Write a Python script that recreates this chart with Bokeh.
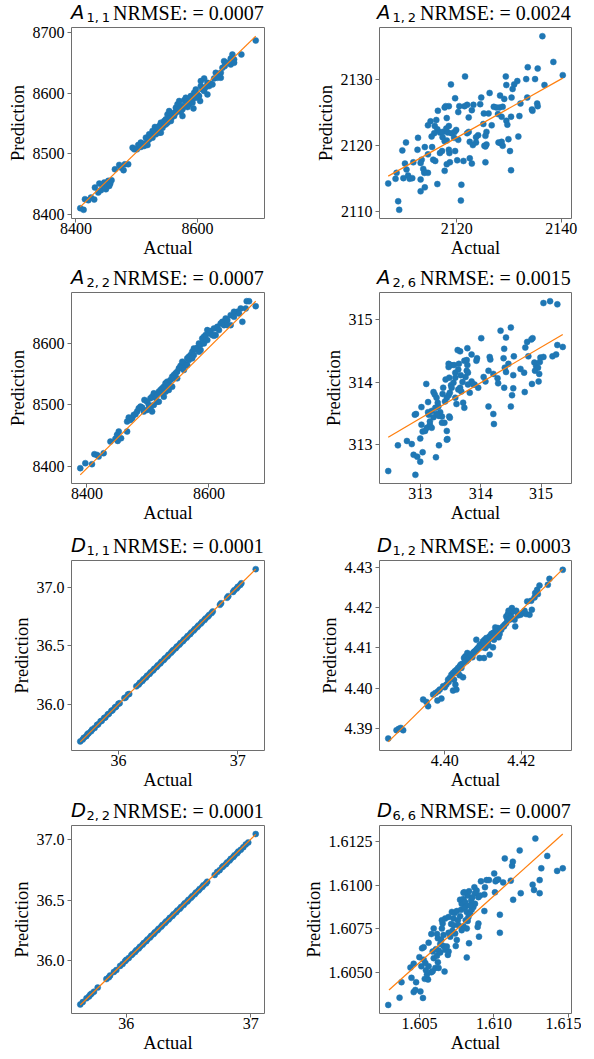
from bokeh.plotting import figure
from bokeh.layouts import column, row
from bokeh.models import FixedTicker, Div
from bokeh.embed import file_html
from bokeh.resources import INLINE

# ---------------- data ----------------
a11_actual = [8407.1, 8412.6, 8414.8, 8420.3, 8424.7, 8430.1, 8431.2, 8436.7, 8438.4, 8441.1,
              8443.8, 8446.6, 8451.0, 8453.2, 8456.4, 8458.6, 8454.8, 8449.3, 8464.1, 8471.2,
              8474.0, 8478.4, 8480.5, 8486.0, 8493.2, 8495.9, 8500.3, 8502.5, 8506.8, 8511.2,
              8515.1, 8517.8, 8520.5, 8523.3, 8527.7, 8529.9, 8531.5, 8534.2, 8537.0, 8539.7,
              8542.5, 8545.2, 8547.9, 8550.7, 8553.4, 8555.1, 8557.3, 8561.6, 8564.4, 8567.1,
              8569.9, 8572.6, 8575.3, 8578.1, 8580.8, 8583.6, 8586.3, 8589.0, 8591.8, 8594.5,
              8597.3, 8600.0, 8602.7, 8605.5, 8608.2, 8611.0, 8616.4, 8619.2, 8621.9, 8627.4,
              8630.1, 8635.6, 8638.4, 8641.1, 8643.8, 8644.9, 8649.3, 8654.8, 8657.5, 8660.3,
              8672.3, 8695.9, 8537.0, 8526.0, 8531.5, 8542.5, 8556.2, 8567.1, 8575.3, 8583.6,
              8591.8, 8506.8, 8512.3, 8517.8, 8550.7, 8545.2, 8561.6, 8572.6, 8593.4, 8604.4,
              8616.4, 8638.4, 8654.8, 8660.3, 8539.7, 8547.9, 8553.4, 8558.9, 8564.4, 8569.9,
              8578.1, 8586.3, 8597.3, 8611.0, 8624.7, 8632.9, 8526.0, 8520.5, 8534.2, 8605.5,
              8613.7]
a11_pred = [8409.9, 8407.2, 8424.8, 8423.1, 8427.5, 8424.2, 8444.0, 8435.8, 8450.6, 8439.6,
            8448.4, 8452.3, 8449.5, 8455.1, 8450.6, 8456.1, 8446.8, 8441.3, 8474.3, 8481.5,
            8477.1, 8472.7, 8482.6, 8482.6, 8510.1, 8507.3, 8507.3, 8514.5, 8518.4, 8516.7,
            8526.6, 8521.1, 8523.9, 8529.4, 8534.9, 8544.2, 8540.4, 8537.6, 8545.9, 8551.4,
            8548.6, 8554.1, 8556.9, 8565.1, 8570.6, 8562.4, 8559.6, 8567.9, 8576.1, 8581.7,
            8587.2, 8578.9, 8573.4, 8588.3, 8592.7, 8587.2, 8581.7, 8595.4, 8589.9, 8600.9,
            8606.4, 8598.2, 8595.4, 8611.9, 8606.4, 8624.6, 8617.4, 8611.9, 8615.8, 8624.6,
            8633.9, 8630.1, 8633.9, 8642.2, 8653.2, 8645.0, 8650.5, 8657.6, 8664.2, 8656.0,
            8664.2, 8687.3, 8534.9, 8526.6, 8532.1, 8543.1, 8554.1, 8570.6, 8562.4, 8577.2,
            8584.4, 8511.2, 8512.8, 8514.5, 8551.4, 8547.5, 8562.4, 8569.5, 8575.0, 8587.2,
            8598.2, 8625.7, 8647.7, 8650.5, 8534.9, 8548.6, 8558.5, 8563.5, 8567.9, 8573.4,
            8578.9, 8587.2, 8592.7, 8603.7, 8614.7, 8625.7, 8537.6, 8532.1, 8543.1, 8620.2,
            8610.3]
a11_line_x = [8407.1, 8695.9]
a11_line_y = [8412.1, 8694.5]

a12_actual = [2136.4, 2138.5, 2140.3, 2135.5, 2133.6, 2136.8, 2135.0, 2133.3, 2131.6, 2131.0,
              2130.7, 2129.4, 2129.5, 2121.6, 2118.9, 2119.7, 2126.3, 2124.7, 2128.3, 2129.1,
              2130.5, 2133.5, 2132.2, 2135.4, 2135.5, 2134.5, 2134.4, 2132.0, 2130.4, 2129.5,
              2129.7, 2128.6, 2127.9, 2127.1, 2127.6, 2128.2, 2128.8, 2126.1, 2125.2, 2125.1,
              2126.7, 2125.7, 2125.5, 2124.1, 2123.7, 2123.2, 2122.0, 2121.5, 2120.5, 2124.5,
              2122.3, 2122.9, 2120.3, 2118.5, 2117.9, 2117.7, 2116.4, 2118.1, 2115.0, 2116.1,
              2114.5, 2115.8, 2116.3, 2115.7, 2115.2, 2116.8, 2117.3, 2118.0, 2118.5, 2118.3,
              2119.0, 2119.6, 2119.9, 2117.3, 2117.7, 2118.1, 2119.5, 2120.3, 2122.3, 2122.0,
              2122.5, 2123.7, 2123.1, 2125.3, 2125.5, 2125.7, 2128.0, 2128.4, 2128.6, 2128.8,
              2129.9, 2131.8, 2130.2, 2130.4, 2125.5, 2122.9, 2122.5, 2121.3, 2120.1, 2119.7,
              2118.6, 2118.5, 2117.2, 2116.8, 2115.3, 2113.9, 2114.5, 2115.5, 2115.9, 2112.5,
              2112.6, 2110.3, 2109.6, 2111.7, 2110.1, 2110.4, 2110.7, 2111.0, 2111.5, 2113.3,
              2113.1, 2113.6, 2113.9, 2114.5, 2113.8, 2118.7, 2118.1, 2117.7, 2113.1, 2109.8,
              2108.5, 2108.3, 2106.9, 2113.9, 2113.1, 2116.3, 2120.9, 2120.8, 2108.8, 2109.0]
a12_pred = [2136.5, 2132.6, 2130.6, 2131.6, 2131.8, 2129.1, 2130.0, 2130.0, 2129.7, 2129.2,
            2128.5, 2130.4, 2129.1, 2130.4, 2129.2, 2127.1, 2127.9, 2127.2, 2127.5, 2127.0,
            2127.2, 2127.2, 2126.3, 2126.3, 2125.9, 2125.2, 2125.4, 2124.4, 2124.3, 2123.7,
            2123.1, 2124.3, 2124.7, 2125.8, 2125.7, 2125.7, 2125.8, 2124.8, 2124.8, 2123.2,
            2123.0, 2122.0, 2121.4, 2121.5, 2121.2, 2126.1, 2126.1, 2125.9, 2125.9, 2126.2,
            2124.2, 2125.3, 2125.0, 2125.9, 2125.9, 2125.7, 2125.2, 2124.1, 2123.6, 2123.8,
            2123.0, 2122.9, 2122.4, 2121.8, 2121.3, 2121.9, 2122.0, 2122.5, 2122.9, 2121.9,
            2121.8, 2122.0, 2122.3, 2121.2, 2120.6, 2120.7, 2121.1, 2120.8, 2122.0, 2121.8,
            2120.5, 2120.4, 2120.0, 2119.9, 2119.8, 2120.1, 2120.4, 2120.3, 2120.5, 2119.9,
            2120.9, 2121.3, 2119.1, 2116.2, 2117.4, 2117.2, 2118.0, 2117.6, 2117.7, 2119.1,
            2118.8, 2119.3, 2119.1, 2118.8, 2119.7, 2119.7, 2118.6, 2117.8, 2117.6, 2119.3,
            2121.1, 2120.4, 2119.2, 2117.4, 2117.2, 2116.3, 2115.4, 2114.9, 2115.0, 2117.8,
            2117.3, 2116.4, 2115.9, 2115.8, 2115.8, 2117.4, 2117.1, 2116.1, 2114.8, 2115.0,
            2115.8, 2114.9, 2114.2, 2113.6, 2113.0, 2114.1, 2114.0, 2111.6, 2111.5, 2110.2]
a12_line_x = [2106.9, 2140.3]
a12_line_y = [2115.3, 2130.15]

a22_actual = [8389.0, 8397.3, 8408.2, 8412.1, 8416.4, 8419.2, 8427.4, 8438.4, 8446.6, 8449.3,
              8452.1, 8450.4, 8455.9, 8465.8, 8468.5, 8471.2, 8474.0, 8476.7, 8479.5, 8482.2,
              8484.9, 8487.7, 8490.4, 8494.2, 8498.6, 8501.4, 8504.1, 8506.8, 8509.6, 8512.3,
              8515.1, 8517.8, 8520.5, 8523.3, 8526.0, 8528.8, 8531.5, 8534.2, 8537.0, 8539.7,
              8542.5, 8545.2, 8547.9, 8550.7, 8553.4, 8556.2, 8558.9, 8561.6, 8564.4, 8567.1,
              8569.9, 8572.6, 8575.3, 8578.1, 8580.8, 8583.6, 8586.3, 8589.0, 8591.8, 8594.5,
              8597.3, 8600.0, 8602.7, 8608.2, 8611.0, 8613.7, 8619.2, 8621.9, 8624.7, 8627.4,
              8630.1, 8635.6, 8641.1, 8646.6, 8652.1, 8654.8, 8661.9, 8665.8, 8676.7, 8660.3,
              8641.1, 8635.6, 8649.3, 8608.2, 8586.3, 8575.3, 8564.4, 8556.2, 8542.5, 8531.5,
              8515.1, 8504.1, 8493.2, 8498.6, 8506.8, 8509.6, 8517.8, 8526.0, 8534.2, 8539.7,
              8547.9, 8558.9, 8567.1, 8572.6, 8583.6, 8591.8, 8597.3, 8605.5, 8616.4, 8630.1,
              8537.0, 8528.8, 8523.3, 8465.8]
a22_pred = [8397.3, 8405.4, 8403.8, 8420.0, 8418.9, 8416.2, 8421.6, 8440.5, 8444.9, 8451.4,
            8456.8, 8441.6, 8445.9, 8473.0, 8479.5, 8475.7, 8478.4, 8483.8, 8484.9, 8489.2,
            8494.6, 8497.3, 8495.7, 8508.1, 8505.4, 8500.0, 8510.8, 8513.5, 8518.9, 8511.9,
            8516.2, 8521.6, 8524.3, 8527.0, 8529.7, 8535.1, 8537.8, 8532.4, 8540.5, 8545.9,
            8548.6, 8551.4, 8554.1, 8559.5, 8563.8, 8559.5, 8567.6, 8564.9, 8575.7, 8578.4,
            8581.1, 8586.5, 8591.9, 8590.8, 8593.0, 8600.0, 8598.4, 8608.1, 8610.8, 8613.5,
            8621.6, 8616.2, 8620.0, 8624.3, 8613.5, 8627.0, 8632.4, 8635.1, 8629.7, 8640.5,
            8637.8, 8645.9, 8643.2, 8651.4, 8656.8, 8635.1, 8668.6, 8668.6, 8660.5, 8656.8,
            8651.4, 8629.7, 8648.6, 8612.4, 8589.2, 8581.1, 8564.9, 8570.3, 8543.2, 8524.3,
            8505.4, 8494.6, 8489.2, 8491.9, 8489.2, 8500.0, 8505.4, 8513.5, 8524.3, 8529.7,
            8543.2, 8556.8, 8573.0, 8575.7, 8586.5, 8600.0, 8605.4, 8613.5, 8621.6, 8629.7,
            8531.4, 8521.6, 8518.9, 8456.8]
a22_line_x = [8389.0, 8676.7]
a22_line_y = [8386.5, 8668.6]

a26_actual = [312.47, 312.92, 312.63, 312.78, 312.86, 312.89, 312.95, 313.00, 313.04, 313.26,
              313.00, 313.31, 313.44, 313.45, 313.02, 313.04, 313.08, 313.11, 313.16, 313.19,
              313.16, 313.14, 313.13, 313.19, 313.22, 312.91, 312.93, 313.02, 313.13, 313.10,
              313.22, 313.24, 313.27, 313.29, 313.30, 313.33, 313.31, 313.36, 313.27, 313.25,
              313.38, 313.37, 313.41, 313.44, 313.47, 313.49, 313.51, 313.55, 313.58, 313.48,
              313.42, 313.47, 313.47, 313.51, 313.56, 313.64, 313.63, 313.67, 313.70, 313.75,
              313.77, 313.79, 313.78, 313.73, 313.77, 313.66, 313.62, 313.78, 313.85, 313.94,
              313.93, 314.01, 314.15, 314.16, 314.13, 314.05, 314.08, 314.21, 314.28, 314.29,
              314.33, 314.39, 314.38, 314.40, 314.42, 314.39, 314.46, 314.50, 314.42, 314.55,
              314.54, 314.54, 314.52, 314.50, 314.21, 314.22, 314.13, 314.66, 314.72, 314.74,
              314.73, 314.77, 314.84, 314.86, 314.79, 314.89, 314.92, 314.95, 314.98, 314.99,
              314.90, 314.97, 314.85, 314.96, 315.04, 315.19, 315.25, 315.27, 315.36, 315.04,
              315.15, 315.27, 313.60, 313.58, 313.71, 313.48, 313.49, 313.44, 313.40, 313.36,
              313.52, 313.63, 313.68, 313.82, 313.90, 313.85, 313.79, 313.96, 313.66, 313.58,
              313.88, 313.73]
a26_pred = [312.58, 312.52, 312.99, 313.06, 313.01, 312.84, 312.81, 312.73, 312.88, 312.80,
            313.10, 312.99, 313.08, 313.09, 313.32, 313.21, 313.22, 313.27, 313.32, 313.27,
            313.37, 313.48, 313.52, 313.54, 313.44, 313.48, 313.49, 313.60, 313.68, 313.97,
            313.84, 313.80, 313.75, 313.67, 313.61, 313.52, 313.46, 313.45, 313.49, 313.59,
            313.91, 313.81, 313.69, 313.75, 313.79, 313.83, 313.95, 313.99, 314.07, 314.07,
            314.04, 314.24, 314.29, 314.27, 314.27, 314.29, 314.20, 314.11, 314.00, 314.08,
            314.18, 314.15, 314.27, 314.34, 314.35, 314.49, 314.51, 314.54, 314.44, 314.38,
            314.34, 314.70, 314.40, 314.36, 314.18, 314.08, 314.01, 314.13, 314.06, 313.98,
            314.82, 314.53, 314.38, 314.23, 314.16, 313.91, 314.29, 314.87, 314.71, 314.41,
            314.11, 313.90, 313.79, 313.61, 313.49, 313.33, 313.61, 314.21, 314.15, 314.55,
            313.84, 314.64, 314.68, 314.70, 314.41, 314.31, 314.25, 314.23, 314.32, 314.39,
            314.18, 314.13, 313.97, 314.01, 314.40, 314.41, 314.44, 314.59, 314.56, 315.26,
            315.29, 315.24, 313.65, 313.75, 313.67, 313.45, 313.43, 313.22, 313.35, 313.35,
            313.91, 313.88, 313.85, 313.83, 313.96, 314.01, 313.96, 313.91, 313.91, 314.15,
            313.96, 313.59]
a26_line_x = [312.47, 315.36]
a26_line_y = [313.12, 314.76]

d11_actual = [35.68, 35.70, 35.71, 35.73, 35.74, 35.75, 35.77, 35.78, 35.80, 35.82,
              35.83, 35.85, 35.86, 35.88, 35.89, 35.91, 35.92, 35.94, 35.95, 35.97,
              35.98, 36.00, 36.01, 36.05, 36.06, 36.08, 36.09, 36.15, 36.17, 36.18,
              36.20, 36.21, 36.23, 36.24, 36.26, 36.27, 36.29, 36.30, 36.32, 36.33,
              36.35, 36.36, 36.38, 36.39, 36.41, 36.42, 36.44, 36.45, 36.46, 36.48,
              36.49, 36.51, 36.52, 36.54, 36.55, 36.57, 36.58, 36.60, 36.61, 36.63,
              36.64, 36.66, 36.67, 36.69, 36.70, 36.72, 36.73, 36.75, 36.76, 36.78,
              36.79, 36.85, 36.86, 36.91, 36.92, 36.96, 36.97, 36.99, 37.00, 37.02,
              37.03, 37.15]
d11_pred = [35.682, 35.698, 35.713, 35.727, 35.743, 35.752, 35.768, 35.783, 35.797, 35.822,
            35.828, 35.853, 35.858, 35.882, 35.887, 35.912, 35.918, 35.942, 35.948, 35.972,
            35.978, 36.003, 36.008, 36.052, 36.057, 36.083, 36.087, 36.152, 36.168, 36.183,
            36.198, 36.213, 36.227, 36.243, 36.258, 36.272, 36.288, 36.302, 36.318, 36.332,
            36.348, 36.362, 36.378, 36.392, 36.408, 36.422, 36.438, 36.452, 36.462, 36.478,
            36.492, 36.508, 36.522, 36.538, 36.552, 36.568, 36.582, 36.598, 36.612, 36.628,
            36.642, 36.658, 36.672, 36.688, 36.702, 36.718, 36.732, 36.748, 36.762, 36.778,
            36.792, 36.848, 36.862, 36.908, 36.922, 36.958, 36.972, 36.988, 37.002, 37.018,
            37.032, 37.153]
d11_line_x = [35.68, 37.15]
d11_line_y = [35.678, 37.152]

d12_actual = [4.38522, 4.38739, 4.38852, 4.38913, 4.38800, 4.39435, 4.39522, 4.39565, 4.39696, 4.39757,
              4.39826, 4.39809, 4.39913, 4.39870, 4.39957, 4.40043, 4.40104, 4.40130, 4.40174, 4.40217,
              4.40261, 4.40304, 4.40348, 4.40217, 4.40304, 4.40278, 4.40243, 4.40391, 4.40478, 4.40435,
              4.40504, 4.40539, 4.40565, 4.40609, 4.40652, 4.40696, 4.40739, 4.40783, 4.40826, 4.40870,
              4.40826, 4.40913, 4.40957, 4.41000, 4.41043, 4.41087, 4.41130, 4.41174, 4.41217, 4.41261,
              4.41304, 4.41348, 4.41391, 4.41322, 4.41374, 4.41409, 4.41174, 4.41026, 4.40913, 4.41261,
              4.41148, 4.41478, 4.41522, 4.41565, 4.41609, 4.41635, 4.41670, 4.41722, 4.41783, 4.41757,
              4.41826, 4.41843, 4.41913, 4.41983, 4.42043, 4.42130, 4.42217, 4.42087, 4.42157, 4.42278,
              4.42261, 4.42348, 4.42365, 4.42417, 4.42478, 4.42435, 4.42696, 4.42739, 4.43087, 4.41609,
              4.41652, 4.41670, 4.41870, 4.40000, 4.40087, 4.40417, 4.40591, 4.40722, 4.40974, 4.41061,
              4.41287, 4.41435, 4.40348, 4.40391, 4.40452, 4.40522, 4.40626, 4.40678, 4.40765, 4.40852,
              4.40939, 4.41026, 4.41113, 4.41200, 4.41287, 4.41374, 4.41461, 4.41548, 4.41696, 4.41739]
d12_pred = [4.38753, 4.38959, 4.39016, 4.38959, 4.38992, 4.39718, 4.39660, 4.39553, 4.39841, 4.39882,
            4.39924, 4.39693, 4.39742, 4.39965, 4.40047, 4.40089, 4.40155, 4.40254, 4.40336, 4.40377,
            4.40419, 4.40452, 4.40377, 4.39940, 4.39965, 4.40089, 4.40212, 4.40320, 4.40270, 4.40501,
            4.40748, 4.40790, 4.40666, 4.40707, 4.40781, 4.40831, 4.40872, 4.40913, 4.40955, 4.40996,
            4.41202, 4.41062, 4.41095, 4.41161, 4.41202, 4.41243, 4.41161, 4.41285, 4.41342, 4.41367,
            4.41392, 4.41449, 4.41491, 4.41507, 4.41326, 4.41260, 4.40831, 4.40748, 4.40748, 4.41012,
            4.41062, 4.41449, 4.41532, 4.41573, 4.41614, 4.41722, 4.41779, 4.41837, 4.41903, 4.41986,
            4.41697, 4.41532, 4.41804, 4.41821, 4.41862, 4.41837, 4.41821, 4.41920, 4.42151, 4.41944,
            4.42167, 4.42249, 4.42357, 4.42439, 4.42546, 4.42332, 4.42563, 4.42711, 4.42934, 4.41779,
            4.41837, 4.41920, 4.41920, 4.40023, 4.40212, 4.40584, 4.40872, 4.40765, 4.41012, 4.40996,
            4.41202, 4.41342, 4.40501, 4.40542, 4.40600, 4.40649, 4.40765, 4.40814, 4.40897, 4.40979,
            4.41062, 4.41120, 4.41202, 4.41260, 4.41326, 4.41408, 4.41474, 4.41532, 4.41697, 4.41755]
d12_line_x = [4.38522, 4.43087]
d12_line_y = [4.38670, 4.42951]

d22_actual = [35.63, 35.65, 35.68, 35.70, 35.71, 35.72, 35.74, 35.77, 35.84, 35.86,
              35.87, 35.90, 35.92, 35.95, 35.97, 35.99, 36.00, 36.02, 36.04, 36.05,
              36.07, 36.08, 36.10, 36.11, 36.13, 36.14, 36.16, 36.17, 36.19, 36.20,
              36.22, 36.23, 36.25, 36.26, 36.28, 36.29, 36.31, 36.32, 36.34, 36.35,
              36.37, 36.38, 36.40, 36.41, 36.43, 36.44, 36.46, 36.47, 36.49, 36.50,
              36.52, 36.53, 36.55, 36.56, 36.58, 36.59, 36.61, 36.62, 36.64, 36.65,
              36.71, 36.73, 36.75, 36.77, 36.78, 36.80, 36.81, 36.83, 36.84, 36.86,
              36.87, 36.89, 36.90, 36.92, 36.94, 36.96, 36.98, 37.04]
d22_pred = [35.632, 35.652, 35.683, 35.698, 35.713, 35.722, 35.738, 35.772, 35.843, 35.858,
            35.873, 35.902, 35.918, 35.952, 35.968, 35.992, 36.003, 36.018, 36.042, 36.052,
            36.068, 36.082, 36.098, 36.112, 36.128, 36.142, 36.158, 36.172, 36.188, 36.202,
            36.218, 36.232, 36.248, 36.262, 36.278, 36.292, 36.308, 36.322, 36.338, 36.352,
            36.368, 36.382, 36.398, 36.412, 36.428, 36.442, 36.458, 36.472, 36.488, 36.502,
            36.518, 36.532, 36.548, 36.562, 36.578, 36.592, 36.608, 36.622, 36.638, 36.652,
            36.708, 36.732, 36.748, 36.772, 36.782, 36.798, 36.812, 36.828, 36.842, 36.858,
            36.872, 36.888, 36.902, 36.918, 36.938, 36.962, 36.978, 37.048]
d22_line_x = [35.63, 37.04]
d22_line_y = [35.628, 37.045]

d66_actual = [1.60291, 1.60367, 1.60380, 1.60462, 1.60473, 1.60507, 1.60478, 1.60524, 1.60447, 1.60440,
              1.60462, 1.60513, 1.60540, 1.60500, 1.60529, 1.60544, 1.60562, 1.60536, 1.60558, 1.60551,
              1.60580, 1.60589, 1.60607, 1.60629, 1.60624, 1.60596, 1.60618, 1.60640, 1.60669, 1.60518,
              1.60529, 1.60562, 1.60580, 1.60596, 1.60618, 1.60624, 1.60647, 1.60640, 1.60662, 1.60673,
              1.60691, 1.60696, 1.60684, 1.60662, 1.60656, 1.60651, 1.60673, 1.60696, 1.60713, 1.60722,
              1.60740, 1.60751, 1.60744, 1.60707, 1.60718, 1.60736, 1.60751, 1.60729, 1.60758, 1.60773,
              1.60780, 1.60784, 1.60773, 1.60796, 1.60807, 1.60811, 1.60802, 1.60818, 1.60829, 1.60811,
              1.60796, 1.60818, 1.60824, 1.60840, 1.60851, 1.60862, 1.60873, 1.60847, 1.60840, 1.60824,
              1.60833, 1.60869, 1.60884, 1.60873, 1.60856, 1.60896, 1.60907, 1.60936, 1.60936, 1.60896,
              1.60891, 1.60900, 1.60833, 1.60818, 1.60802, 1.60796, 1.60913, 1.60940, 1.60951, 1.60967,
              1.61002, 1.61011, 1.61018, 1.61029, 1.61007, 1.61040, 1.61040, 1.61062, 1.61073, 1.61113,
              1.61122, 1.61127, 1.61129, 1.61173, 1.61180, 1.61260, 1.61269, 1.61278, 1.61307, 1.61307,
              1.61318, 1.61358, 1.61424, 1.61462, 1.60762, 1.60784, 1.60696, 1.60729, 1.60651, 1.60629,
              1.60589, 1.60611]
d66_pred = [1.60312, 1.60354, 1.60443, 1.60386, 1.60398, 1.60390, 1.60443, 1.60352, 1.60468, 1.60527,
            1.60549, 1.60534, 1.60553, 1.60587, 1.60572, 1.60511, 1.60534, 1.60462, 1.60458, 1.60487,
            1.60500, 1.60506, 1.60525, 1.60525, 1.60557, 1.60581, 1.60595, 1.60614, 1.60504, 1.60638,
            1.60644, 1.60670, 1.60720, 1.60752, 1.60720, 1.60695, 1.60686, 1.60663, 1.60651, 1.60629,
            1.60600, 1.60619, 1.60648, 1.60714, 1.60780, 1.60799, 1.60809, 1.60818, 1.60777, 1.60739,
            1.60723, 1.60686, 1.60651, 1.60705, 1.60847, 1.60841, 1.60852, 1.60809, 1.60799, 1.60822,
            1.60860, 1.60894, 1.60917, 1.60922, 1.60903, 1.60879, 1.60871, 1.60847, 1.60818, 1.60799,
            1.60765, 1.60752, 1.60795, 1.60837, 1.60860, 1.60875, 1.60894, 1.60913, 1.60884, 1.60941,
            1.60966, 1.60989, 1.60970, 1.60955, 1.60932, 1.60932, 1.60941, 1.60947, 1.60852, 1.60780,
            1.60761, 1.60705, 1.60667, 1.60585, 1.60960, 1.60958, 1.61023, 1.60989, 1.61030, 1.61030,
            1.61068, 1.61023, 1.61030, 1.61034, 1.60960, 1.60831, 1.60727, 1.61017, 1.61155, 1.61027,
            1.61112, 1.61136, 1.60917, 1.61201, 1.60955, 1.61004, 1.60973, 1.61269, 1.60955, 1.61030,
            1.61098, 1.61169, 1.61083, 1.61098, 1.60771, 1.60742, 1.60727, 1.60771, 1.60752, 1.60625,
            1.60619, 1.60633]
d66_line_x = [1.60296, 1.61462]
d66_line_y = [1.60398, 1.61295]

# titles: (symbol, subscript, score text)
titles = [("A", "1, 1", "NRMSE: = 0.0007"), ("A", "1, 2", "NRMSE: = 0.0024"),
          ("A", "2, 2", "NRMSE: = 0.0007"), ("A", "2, 6", "NRMSE: = 0.0015"),
          ("D", "1, 1", "NRMSE: = 0.0001"), ("D", "1, 2", "NRMSE: = 0.0003"),
          ("D", "2, 2", "NRMSE: = 0.0001"), ("D", "6, 6", "NRMSE: = 0.0007")]

# ticks and tick labels
a11_xticks, a11_xlabels = [8400, 8600], ["8400", "8600"]
a11_yticks, a11_ylabels = [8400, 8500, 8600, 8700], ["8400", "8500", "8600", "8700"]
a12_xticks, a12_xlabels = [2120, 2140], ["2120", "2140"]
a12_yticks, a12_ylabels = [2110, 2120, 2130], ["2110", "2120", "2130"]
a22_xticks, a22_xlabels = [8400, 8600], ["8400", "8600"]
a22_yticks, a22_ylabels = [8400, 8500, 8600], ["8400", "8500", "8600"]
a26_xticks, a26_xlabels = [313, 314, 315], ["313", "314", "315"]
a26_yticks, a26_ylabels = [313, 314, 315], ["313", "314", "315"]
d11_xticks, d11_xlabels = [36, 37], ["36", "37"]
d11_yticks, d11_ylabels = [36.0, 36.5, 37.0], ["36.0", "36.5", "37.0"]
d12_xticks, d12_xlabels = [4.40, 4.42], ["4.40", "4.42"]
d12_yticks, d12_ylabels = [4.39, 4.40, 4.41, 4.42, 4.43], ["4.39", "4.40", "4.41", "4.42", "4.43"]
d22_xticks, d22_xlabels = [36, 37], ["36", "37"]
d22_yticks, d22_ylabels = [36.0, 36.5, 37.0], ["36.0", "36.5", "37.0"]
d66_xticks, d66_xlabels = [1.605, 1.610, 1.615], ["1.605", "1.610", "1.615"]
d66_yticks, d66_ylabels = [1.6050, 1.6075, 1.6100, 1.6125], ["1.6050", "1.6075", "1.6100", "1.6125"]

# ---------------- styling / layout ----------------
SERIF = "Liberation Serif"
BLUE = "#1f77b4"
ORANGE = "#ff7f0e"
SPINE = "#6e6e6e"
TEXT = "#000000"

COL_W = [297, 284]
COL_L = [71, 82]
COL_R = [33, 10]
TITLE_X = [(71, 86.5, 113), (80, 95.5, 123)]
DIV_H = [23, 25, 28, 26]
FIG_H = [240, 240, 239, 237]
TOP_B = 4
BOT_B = 45


def title_div(idx):
    letter, sub, rest = titles[idx]
    c, r = idx % 2, idx // 2
    w, h = COL_W[c], DIV_H[r]
    xa, xs, xr = TITLE_X[c]
    base = h - 3.5
    html = (
        f'<div style="position:relative;width:{w}px;height:{h}px;color:{TEXT};white-space:nowrap;">'
        f'<span style="position:absolute;left:{xa}px;top:{base - 0.846 * 19.5:.2f}px;'
        f'font-family:\'DejaVu Sans\';font-style:italic;font-size:19.5px;line-height:1;">{letter}</span>'
        f'<span style="position:absolute;left:{xs}px;top:{base + 2.5 - 0.846 * 13:.2f}px;'
        f'font-family:\'DejaVu Sans\';font-size:13px;line-height:1;word-spacing:-0.1em;">{sub}</span>'
        f'<span style="position:absolute;left:{xr}px;top:{base - 0.8375 * 20:.2f}px;'
        f'font-family:\'{SERIF}\';font-size:20px;line-height:1;">{rest}</span>'
        '</div>'
    )
    return Div(text=html, width=w, height=h, margin=(0, 0, 0, 0))


def make_panel(idx, actual, pred, lx, ly, xt, xl, yt, yl):
    c, r = idx % 2, idx // 2
    p = figure(width=COL_W[c], height=FIG_H[r],
               output_backend="svg", toolbar_location=None,
               min_border_left=COL_L[c], min_border_right=COL_R[c],
               min_border_top=TOP_B, min_border_bottom=BOT_B)
    p.scatter(actual, pred, size=6, fill_color=BLUE, line_color=BLUE, line_width=0.5)
    p.line(lx, ly, line_color=ORANGE, line_width=1.2)

    p.xgrid.visible = False
    p.ygrid.visible = False
    p.outline_line_color = SPINE
    p.outline_line_width = 1
    p.background_fill_color = "white"
    p.border_fill_color = "white"

    p.xaxis.ticker = FixedTicker(ticks=xt, minor_ticks=[])
    p.yaxis.ticker = FixedTicker(ticks=yt, minor_ticks=[])
    p.xaxis.major_label_overrides = dict(zip(xt, xl))
    p.yaxis.major_label_overrides = dict(zip(yt, yl))
    p.xaxis.axis_label = "Actual"
    p.yaxis.axis_label = "Prediction"
    for ax in (p.xaxis[0], p.yaxis[0]):
        ax.axis_line_color = None
        ax.major_tick_line_color = SPINE
        ax.major_tick_in = 0
        ax.major_tick_out = 4
        ax.minor_tick_line_color = None
        ax.major_label_text_font = SERIF
        ax.major_label_text_font_size = "16px"
        ax.major_label_text_color = TEXT
        ax.axis_label_text_font = SERIF
        ax.axis_label_text_font_size = "18.5px"
        ax.axis_label_text_font_style = "normal"
        ax.axis_label_text_color = TEXT
    p.xaxis[0].major_label_standoff = 0
    p.xaxis[0].axis_label_standoff = 1
    p.yaxis[0].major_label_standoff = 3
    p.yaxis[0].axis_label_standoff = 2
    return p


panels = [
    make_panel(0, a11_actual, a11_pred, a11_line_x, a11_line_y, a11_xticks, a11_xlabels, a11_yticks, a11_ylabels),
    make_panel(1, a12_actual, a12_pred, a12_line_x, a12_line_y, a12_xticks, a12_xlabels, a12_yticks, a12_ylabels),
    make_panel(2, a22_actual, a22_pred, a22_line_x, a22_line_y, a22_xticks, a22_xlabels, a22_yticks, a22_ylabels),
    make_panel(3, a26_actual, a26_pred, a26_line_x, a26_line_y, a26_xticks, a26_xlabels, a26_yticks, a26_ylabels),
    make_panel(4, d11_actual, d11_pred, d11_line_x, d11_line_y, d11_xticks, d11_xlabels, d11_yticks, d11_ylabels),
    make_panel(5, d12_actual, d12_pred, d12_line_x, d12_line_y, d12_xticks, d12_xlabels, d12_yticks, d12_ylabels),
    make_panel(6, d22_actual, d22_pred, d22_line_x, d22_line_y, d22_xticks, d22_xlabels, d22_yticks, d22_ylabels),
    make_panel(7, d66_actual, d66_pred, d66_line_x, d66_line_y, d66_xticks, d66_xlabels, d66_yticks, d66_ylabels),
]

rows = []
for r in range(4):
    rows.append(row(title_div(2 * r), title_div(2 * r + 1)))
    rows.append(row(panels[2 * r], panels[2 * r + 1]))

layout = column(*rows)

open("out.html", "w").write(file_html(layout, INLINE))
